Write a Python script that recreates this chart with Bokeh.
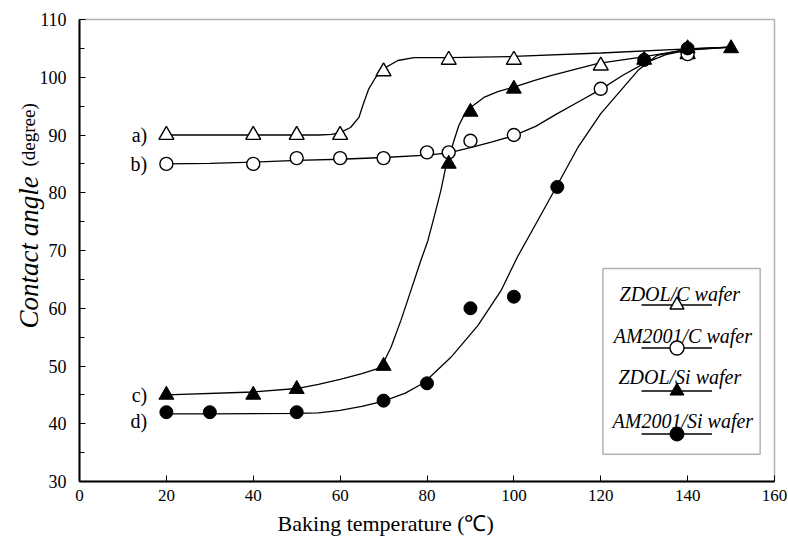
import math
from bokeh.plotting import figure
from bokeh.models import (Label, BoxAnnotation, Legend, LegendItem,
                          SingleIntervalTicker, Range1d)
from bokeh.embed import file_html
from bokeh.resources import INLINE

# ---------------- data ----------------
# measured points
a_x = [20, 40, 50, 60, 70, 85, 100, 120, 140]
a_y = [90, 90, 90, 90, 101, 103, 103, 102, 104]
b_x = [20, 40, 50, 60, 70, 80, 85, 90, 100, 120, 140]
b_y = [85, 85, 86, 86, 86, 87, 87, 89, 90, 98, 104]
c_x = [20, 40, 50, 70, 85, 90, 100, 130, 140, 150]
c_y = [45, 45, 46, 50, 85, 94, 98, 103, 105, 105]
d_x = [20, 30, 50, 70, 80, 90, 100, 110, 130, 140]
d_y = [42, 42, 42, 44, 47, 60, 62, 81, 103, 105]

# fitted (hand-drawn) curves
fa_x = [20, 40, 50, 55, 58, 60, 62.4, 64.3, 65.4, 66.6, 68.2, 70, 73.3, 77, 85, 100, 120, 140, 150]
fa_y = [90, 90, 90, 90, 90.1, 90.4, 91.3, 93.0, 95.5, 98.0, 100.0, 101.5, 102.9, 103.4, 103.4, 103.6, 104.2, 104.9, 105.2]
fb_x = [20, 30, 40, 50, 60, 70, 80, 85, 90, 95, 100, 105, 110, 115, 120, 125, 130, 135, 140, 150]
fb_y = [85, 85.1, 85.3, 85.6, 85.8, 86.1, 86.5, 86.9, 87.8, 88.8, 89.9, 91.5, 93.7, 95.8, 97.9, 100.3, 102.4, 103.9, 104.7, 105.2]
fc_x = [20, 40, 50, 55, 60, 65, 69.4, 71.7, 74, 76.3, 78.6, 80.2, 81.6, 83.2, 84.3, 85.5, 86.2,
        87.3, 88.5, 90.1, 93.1, 96.3, 100, 104.6, 108.5, 119.4, 128.6, 140, 150]
fc_y = [45, 45.5, 46.1, 46.8, 47.7, 48.7, 49.7, 53.2, 57.9, 63.1, 68.3, 71.7, 75.7, 80.4, 84.4, 87.3, 89.0,
        91.6, 93.4, 94.8, 96.5, 97.5, 98.3, 99.4, 100.3, 102.4, 103.4, 104.8, 105.2]
fd_x = [20, 30, 50, 55, 60, 65, 70, 75, 79.3, 85.5, 91.7, 97, 100.9, 105.5, 109.7, 114.7, 120, 128.6, 133, 140, 150]
fd_y = [41.7, 41.7, 41.8, 41.9, 42.3, 43.0, 43.9, 45.3, 47.1, 51.5, 57.0, 63.0, 69.0, 75.2, 80.9, 87.8, 93.7, 101.2, 103.8, 104.9, 105.2]

series_names = ["ZDOL/C wafer", "AM2001/C wafer", "ZDOL/Si wafer", "AM2001/Si wafer"]
curve_tags = ["a)", "b)", "c)", "d)"]

x_title = "Baking temperature (\u2103)"
y_title_main = "Contact angle"
y_title_unit = "(degree)"

SERIF = "Liberation Serif"

# axis extents of the plotting box
X0, X1 = 0, 160
Y0, Y1 = 30, 110

# ---------------- figure ----------------
# The frame fills the whole canvas; the axes are pinned at x=0 / y=30 so that
# titles and labels outside the plotting box are not clipped.
W, H = 788, 541
left_px, right_px, top_px, bottom_px = 79, 774, 19, 481
sx = (right_px - left_px) / (X1 - X0)
sy = (bottom_px - top_px) / (Y1 - Y0)
xr = Range1d(X0 - left_px / sx, X1 + (W - right_px) / sx)
yr = Range1d(Y0 - (H - bottom_px) / sy, Y1 + top_px / sy)

p = figure(width=W, height=H, output_backend="svg", toolbar_location=None, title=None,
           x_range=xr, y_range=yr,
           min_border_left=0, min_border_right=0, min_border_top=0, min_border_bottom=0)
p.background_fill_color = "white"
p.border_fill_color = "white"
p.xgrid.visible = False
p.ygrid.visible = False
p.outline_line_color = None

p.xaxis.ticker = SingleIntervalTicker(interval=20, num_minor_ticks=0)
p.yaxis.ticker = SingleIntervalTicker(interval=10, num_minor_ticks=2)
p.xaxis.fixed_location = Y0
p.yaxis.fixed_location = X0
p.xaxis.bounds = (X0, X1)
p.yaxis.bounds = (Y0, Y1)
for ax in (p.xaxis, p.yaxis):
    ax.axis_line_color = "black"
    ax.axis_line_width = 2
    ax.major_tick_in = 6
    ax.major_tick_out = 0
    ax.minor_tick_in = 5
    ax.minor_tick_out = 0
    ax.major_tick_line_color = "black"
    ax.minor_tick_line_color = "black"
    ax.major_label_text_font = SERIF
    ax.major_label_text_color = "black"
p.yaxis.major_label_text_font_size = "18px"
p.xaxis.major_label_text_font_size = "17px"
p.yaxis.major_label_standoff = 13
p.xaxis.major_label_standoff = 8

# plotting-box outline
p.add_layout(BoxAnnotation(left=X0, right=X1, bottom=Y0, top=Y1,
                           fill_alpha=0, line_color="black", line_width=1.5))

# ---------------- curves ----------------
lw = 1.3
la = p.line(fa_x, fa_y, line_color="black", line_width=lw)
lb = p.line(fb_x, fb_y, line_color="black", line_width=lw)
lc = p.line(fc_x, fc_y, line_color="black", line_width=lw)
ld = p.line(fd_x, fd_y, line_color="black", line_width=lw)

sa = p.scatter(a_x, a_y, marker="triangle", size=15, fill_color="white",
               line_color="black", line_width=1.4)
sb = p.scatter(b_x, b_y, marker="circle", size=13, fill_color="white",
               line_color="black", line_width=1.4)
sc = p.scatter(c_x, c_y, marker="triangle", size=15, fill_color="black",
               line_color="black", line_width=1)
sd = p.scatter(d_x, d_y, marker="circle", size=13, fill_color="black",
               line_color="black", line_width=1)

# curve tags a) b) c) d)
tag_y = [90, 85, 45, 40.4]
for t, ty in zip(curve_tags, tag_y):
    p.add_layout(Label(x=15.6, y=ty, text=t, text_align="right", text_baseline="middle",
                       text_font=SERIF, text_font_size="20px", text_color="black"))

# ---------------- legend ----------------
p.add_layout(BoxAnnotation(left=120.5, right=156.7, bottom=34.7, top=66.9,
                           fill_alpha=0, line_color="black", line_width=1.5))
leg_items = [LegendItem(label=" ", renderers=[lr, sr])
             for lr, sr in [(la, sa), (lb, sb), (lc, sc), (ld, sd)]]
legend = Legend(items=leg_items, location=(641, 90.5),
                glyph_width=71, glyph_height=35, label_width=0, label_height=0,
                label_standoff=0, padding=0, margin=0, spacing=8,
                border_line_color=None, background_fill_alpha=0,
                label_text_font_size="1px")
p.add_layout(legend)

leg_text_pos = [(138.2, 62.55), (138.9, 55.28), (138.2, 48.01), (138.9, 40.56)]
for name, (tx, ty) in zip(series_names, leg_text_pos):
    p.add_layout(Label(x=tx, y=ty, text=name, text_align="center", text_baseline="alphabetic",
                       text_font=SERIF, text_font_style="italic", text_font_size="20px",
                       text_color="black"))

# ---------------- axis titles ----------------
p.add_layout(Label(x=45.6, y=22.73, text=x_title,
                   text_align="left", text_baseline="alphabetic",
                   text_font=SERIF, text_font_size="22px", text_color="black"))
p.add_layout(Label(x=-11.74, y=56.5, text=y_title_main,
                   angle=math.pi / 2, text_align="left", text_baseline="alphabetic",
                   text_font=SERIF, text_font_style="italic", text_font_size="27px",
                   text_color="black"))
p.add_layout(Label(x=-11.74, y=84.55, text=y_title_unit,
                   angle=math.pi / 2, text_align="left", text_baseline="alphabetic",
                   text_font=SERIF, text_font_size="19px", text_color="black"))

open("out.html", "w").write(file_html(p, INLINE))
